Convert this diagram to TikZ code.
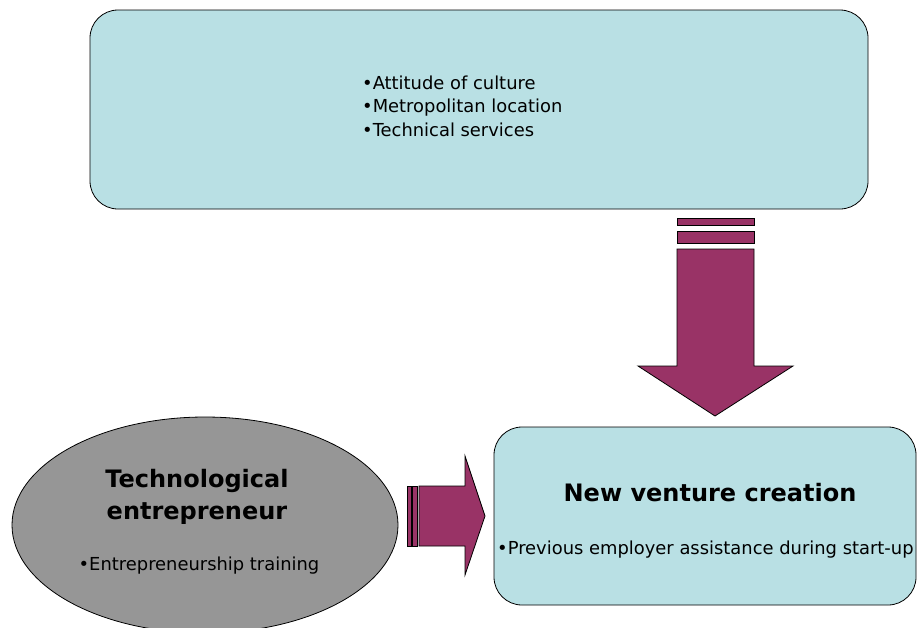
\documentclass[tikz,border=0pt]{standalone}
\usepackage{fontspec}
\setmainfont{DejaVu Sans}
\definecolor{boxcyan}{RGB}{185,224,228}
\definecolor{plum}{RGB}{153,51,102}
\definecolor{ovalgray}{RGB}{150,150,150}
\tikzset{
  panel/.style={draw=black, fill=boxcyan, rounded corners=28pt, line width=0.8pt},
  fatarrow/.style={draw=black, fill=plum, line width=0.8pt},
  bullets/.style={align=left, inner sep=0pt, font=\fontsize{17.9}{23.5}\selectfont},
  heading/.style={align=center, inner sep=0pt, font=\fontsize{24}{32}\selectfont\bfseries}
}
\begin{document}
\begin{tikzpicture}[x=1pt,y=-1pt]
	\useasboundingbox (0,0) rectangle (917,627);
	\clip (0,0) rectangle (917,627);
	% environment
	\draw[panel] (90,10) rectangle (868,209);
	\node[bullets,anchor=west] (env) at (362,106) {•Attitude of culture\\•Metropolitan location\\•Technical services};
	% down arrow
	\draw[fatarrow] (677,218) rectangle (754,225);
	\draw[fatarrow] (677,231) rectangle (754,243);
	\draw[fatarrow] (677,249) -- (754,249) -- (754,366) -- (793,366) -- (715,416) -- (638,366) -- (677,366) -- cycle;
	% entrepreneur
	\draw[fill=ovalgray, line width=0.8pt] (205,525) ellipse (193 and 108);
	\node[heading] (tech) at (197,497) {Technological\\entrepreneur};
	\node[bullets] (training) at (199,566) {•Entrepreneurship training};
	% right arrow
	\draw[fatarrow] (407,486) rectangle (411,546);
	\draw[fatarrow] (412,486) rectangle (417,546);
	\draw[fatarrow] (419,486) -- (465,486) -- (465,456) -- (485,516) -- (465,575) -- (465,546) -- (419,546) -- cycle;
	% new venture
	\draw[panel] (494,427) rectangle (916,605);
	\node[heading] (nvc) at (710,493) {New venture creation};
	\node[bullets,anchor=west] (assist) at (497,550) {•Previous employer assistance during start-up};
\end{tikzpicture}
\end{document}
